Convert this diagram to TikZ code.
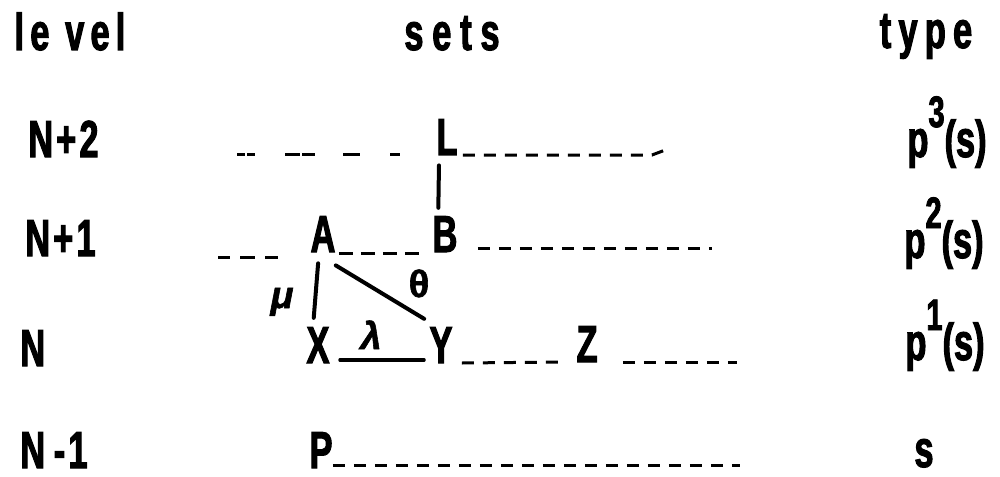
\documentclass[tikz,border=0pt]{standalone}
\usepackage{fontspec}
\newfontfamily\cf{Liberation Sans}[FakeStretch=0.66,FakeBold=2]
\newfontfamily\gf{Liberation Sans}[FakeBold=1.5]
\usetikzlibrary{calc}
\begin{document}
\begin{tikzpicture}[x=0.5pt,y=-0.5pt,
  lab/.style={inner sep=0pt, font=\cf\bfseries\fontsize{26}{30}\selectfont},
  grk/.style={inner sep=0pt, font=\gf\bfseries\fontsize{19}{22}\selectfont},
  solidline/.style={line width=2pt, line cap=round},
  dashline/.style={line width=1.5pt, dash pattern=on 6pt off 4.5pt},
]
\useasboundingbox (0,0) rectangle (1000,476);
% headers
\node[lab,anchor=base] (level) at (70,50) {\addfontfeature{LetterSpace=12}le vel};
\node[lab,anchor=base] (sets) at (452,50) {\addfontfeature{LetterSpace=17}sets};
\node[lab,anchor=base] (type) at (926,48) {\addfontfeature{LetterSpace=14}type};
% levels
\node[lab,anchor=base west] (n2) at (28,157) {\addfontfeature{LetterSpace=6}N+2};
\node[lab,anchor=base west] (n1) at (25,256) {\addfontfeature{LetterSpace=6}N+1};
\node[lab,anchor=base west] (n0) at (20,366) {N};
\node[lab,anchor=base west] (nm) at (20,468) {\addfontfeature{LetterSpace=6}N\,-1};
% types
\node[lab,anchor=base] (t3) at (947,157) {p\raisebox{15pt}{\fontsize{22}{22}\selectfont 3}(s)};
\node[lab,anchor=base] (t2) at (944,258) {p\raisebox{15pt}{\fontsize{22}{22}\selectfont 2}(s)};
\node[lab,anchor=base] (t1) at (945,360) {p\raisebox{15pt}{\fontsize{22}{22}\selectfont 1}(s)};
\node[lab,anchor=base] (t0) at (924,467) {s};
% sets
\node[lab,anchor=base] (L) at (447,155) {L};
\node[lab,anchor=base] (A) at (323,252) {A};
\node[lab,anchor=base] (B) at (445,252) {B};
\node[lab,anchor=base] (X) at (318,363) {X};
\node[lab,anchor=base] (Y) at (441,363) {Y};
\node[lab,anchor=base] (Z) at (587,362) {Z};
\node[lab,anchor=base] (P) at (321,468) {P};
% greek labels
\node[grk,anchor=base] (mu) at (282,308) {\itshape μ};
\node[grk,anchor=base] (th) at (419,297) {θ};
\node[grk,anchor=base] (la) at (371,349) {\itshape λ};
% solid connectors
\draw[solidline,shorten <=5pt,shorten >=4pt] ([xshift=1.5pt]L.south west) -- ([xshift=3pt]B.north west);
\draw[solidline,shorten <=5.5pt,shorten >=4.5pt] ([xshift=-2pt]A.south) -- ([xshift=-2.5pt]X.north);
\draw[solidline] ($(A.south east)+(0,13)$) -- ($(Y.north west)+(-5,-8)$);
\draw[solidline,line width=1.6pt] ($(X.base east)+(10,-3)$) -- ($(Y.base west)+(-5,-3)$);
% dashed connectors
\coordinate (l0) at (237,154);
\draw[line width=1.5pt, dash pattern=on 4pt off 1pt on 4pt off 15pt on 7.5pt off 1pt on 6.5pt off 14pt on 8.5pt off 15pt on 5pt off 30pt] (l0) -- (l0 -| L.west);
\coordinate (l1) at (652,155);
\coordinate (l2) at (668,149);
\draw[dashline] ([xshift=2.5pt]L.base east) -- (l1) -- (l2);
\coordinate (a0) at (218,257);
\draw[line width=1.5pt, dash pattern=on 6pt off 5pt on 7.5pt off 5pt on 6.5pt off 30pt] (a0) -- (a0 -| A.west);
\draw[line width=1.5pt, dash pattern=on 7pt off 4pt, shorten <=1.5pt, shorten >=5.5pt] ($(A.base east)+(0,1)$) -- ($(B.base west)+(0,1)$);
\coordinate (b1) at (712,248);
\draw[dashline] ($(B.base east)+(20,-4)$) -- (b1);
\draw[dashline] ($(Y.base east)+(9,0)$) -- ($(Z.base west)+(-12,0)$);
\coordinate (z1) at (737,362);
\draw[dashline] ($(Z.base east)+(25,0)$) -- (z1);
\coordinate (p1) at (740,465);
\draw[dashline] ($(P.base east)+(0,-3)$) -- (p1);
\end{tikzpicture}
\end{document}
